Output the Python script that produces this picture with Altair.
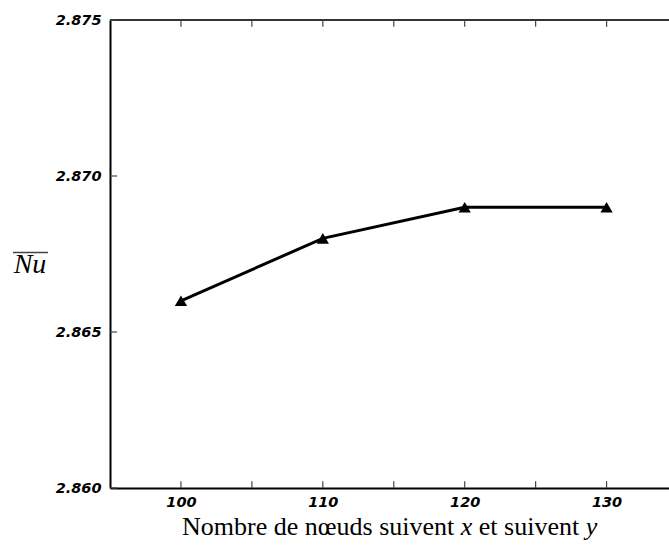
import altair as alt
import pandas as pd

# Grid-independence study: mean Nusselt number vs. mesh size
nodes = [100, 110, 120, 130]
nu_mean = [2.866, 2.868, 2.869, 2.869]

x_ticks = [100, 105, 110, 115, 120, 125, 130]
y_ticks = [2.860, 2.865, 2.870, 2.875]
x_min, x_max = 95, 134.4
y_min, y_max = 2.860, 2.875

df = pd.DataFrame({"n": nodes, "nu": nu_mean})
xt = pd.DataFrame({"t": x_ticks})
yt = pd.DataFrame({"t": y_ticks})
one = pd.DataFrame({"a": [0]})

x_scale = alt.Scale(domain=[x_min, x_max], nice=False, zero=False)
y_scale = alt.Scale(domain=[y_min, y_max], nice=False, zero=False)

label_font = "DejaVu Sans"
label_size = 14.5

x_axis = alt.Axis(
    values=x_ticks,
    labelExpr="datum.value % 10 == 0 ? datum.label : ''",
    ticks=False, grid=False,
    domainColor="black", domainWidth=2,
    labelFont=label_font, labelFontSize=label_size, labelFontStyle="italic",
    labelFontWeight="bold", labelColor="black", labelPadding=7,
    title=None,
)
y_axis = alt.Axis(
    values=y_ticks, format=".3f",
    ticks=False, grid=False,
    domainColor="black", domainWidth=2,
    labelFont=label_font, labelFontSize=label_size, labelFontStyle="italic",
    labelFontWeight="bold", labelColor="black", labelPadding=9,
    title=None,
)

line = alt.Chart(df).mark_line(color="black", strokeWidth=3).encode(
    x=alt.X("n:Q", scale=x_scale, axis=x_axis),
    y=alt.Y("nu:Q", scale=y_scale, axis=y_axis),
)
points = alt.Chart(df).mark_point(
    shape="triangle-up", filled=True, color="black", size=150, opacity=1
).encode(x="n:Q", y="nu:Q")

# top frame line
top = alt.Chart(one).mark_rule(color="#333333", strokeWidth=2).encode(
    x=alt.datum(x_min), x2=alt.datum(x_max), y=alt.datum(y_max)
)

# inward ticks on bottom, top and left edges
tick_len_y = 0.00022
tick_len_x = 0.5
bottom_ticks = alt.Chart(xt).mark_rule(color="#444444", strokeWidth=1.2).encode(
    x="t:Q", y=alt.datum(y_min), y2=alt.datum(y_min + tick_len_y)
)
top_ticks = alt.Chart(xt).mark_rule(color="#444444", strokeWidth=1.2).encode(
    x="t:Q", y=alt.datum(y_max), y2=alt.datum(y_max - tick_len_y)
)
left_ticks = alt.Chart(yt).mark_rule(color="#444444", strokeWidth=1.2).encode(
    y="t:Q", x=alt.datum(x_min), x2=alt.datum(x_min + tick_len_x)
)

# x-axis title, with the variable names in italics
# (SVG drops leading/trailing spaces, so each piece starts at its first glyph)
serif = "Liberation Serif"
title_size = 26
title_base = 515
title_parts = [
    ("Nombre de nœuds suivent", "normal", 72),
    ("x", "italic", 350.7),
    ("et suivent", "normal", 368.8),
    ("y", "italic", 475.7),
]
title_layers = [
    alt.Chart(one).mark_text(
        text=txt, font=serif, fontSize=title_size, fontStyle=style,
        align="left", baseline="alphabetic", color="black",
    ).encode(x=alt.value(px), y=alt.value(title_base))
    for txt, style, px in title_parts
]

# y-axis title: Nu with an overbar
nu_text = alt.Chart(one).mark_text(
    text="Nu", font=serif, fontSize=28, fontStyle="italic",
    align="center", baseline="alphabetic", color="black",
).encode(x=alt.value(-80), y=alt.value(253))
nu_bar = alt.Chart(one).mark_rule(color="#444444", strokeWidth=1.5).encode(
    x=alt.value(-97), x2=alt.value(-62), y=alt.value(232.5)
)

chart = alt.layer(
    line, top, bottom_ticks, top_ticks, left_ticks, points,
    *title_layers, nu_text, nu_bar,
).properties(
    width=559, height=468,
    autosize=alt.AutoSizeParams(type="none"),
    padding={"left": 110, "top": 20, "right": 0, "bottom": 60},
).configure_view(stroke=None).configure(background="white")

chart.save("out.html", embed_options={"renderer": "svg", "actions": False})
